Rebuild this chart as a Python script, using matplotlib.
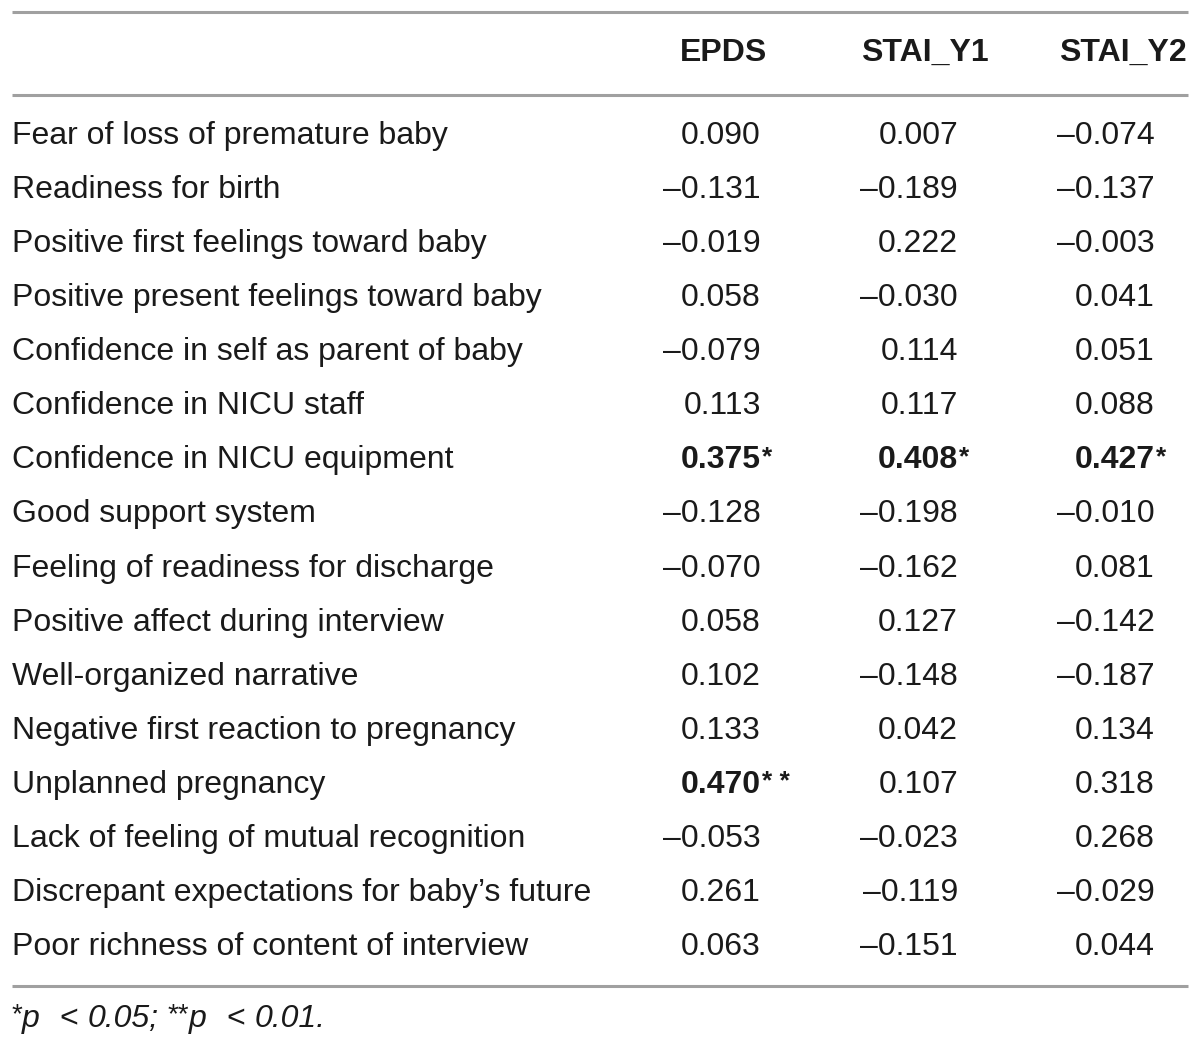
import matplotlib
matplotlib.use("Agg")
import matplotlib.pyplot as plt

# table content
columns = ["EPDS", "STAI_Y1", "STAI_Y2"]
rows = [
    "Fear of loss of premature baby",
    "Readiness for birth",
    "Positive first feelings toward baby",
    "Positive present feelings toward baby",
    "Confidence in self as parent of baby",
    "Confidence in NICU staff",
    "Confidence in NICU equipment",
    "Good support system",
    "Feeling of readiness for discharge",
    "Positive affect during interview",
    "Well-organized narrative",
    "Negative first reaction to pregnancy",
    "Unplanned pregnancy",
    "Lack of feeling of mutual recognition",
    "Discrepant expectations for baby\u2019s future",
    "Poor richness of content of interview",
]
epds = [0.090, -0.131, -0.019, 0.058, -0.079, 0.113, 0.375, -0.128, -0.070, 0.058,
        0.102, 0.133, 0.470, -0.053, 0.261, 0.063]
stai_y1 = [0.007, -0.189, 0.222, -0.030, 0.114, 0.117, 0.408, -0.198, -0.162, 0.127,
           -0.148, 0.042, 0.107, -0.023, -0.119, -0.151]
stai_y2 = [-0.074, -0.137, -0.003, 0.041, 0.051, 0.088, 0.427, -0.010, 0.081, -0.142,
           -0.187, 0.134, 0.318, 0.268, -0.029, 0.044]
# significance stars per cell
stars_epds = ["", "", "", "", "", "", "*", "", "", "", "", "", "* *", "", "", ""]
stars_y1 = ["", "", "", "", "", "", "*", "", "", "", "", "", "", "", "", ""]
stars_y2 = ["", "", "", "", "", "", "*", "", "", "", "", "", "", "", "", ""]
# footnote pieces: (text, italic, gap before in px)
footnote = [("*", False, 0), ("p", True, -2), ("<", False, 19), ("0.05;", True, 8),
            ("**", False, 8), ("p", True, -1), ("<", False, 19), ("0.01.", True, 8)]

W, H = 1200, 1048
plt.rcParams['font.family'] = ['Liberation Sans', 'DejaVu Sans']
fig = plt.figure(figsize=(W / 100, H / 100), dpi=100)
ax = fig.add_axes([0, 0, 1, 1])
ax.set_xlim(0, W)
ax.set_ylim(H, 0)
ax.axis("off")

fs = 23
col = "#1a1a1a"
line_col = "#a0a0a0"

for y in (12, 95, 986):
    ax.plot([12, 1188], [y, y], color=line_col, lw=2.2, solid_capstyle="butt")

# header
head_x = [724, 925, 1123]
for name, x in zip(columns, head_x):
    ax.text(x, 53, name, ha="center", va="center", fontsize=fs, fontweight="bold", color=col)


def fmt(v):
    s = "%.3f" % abs(v)
    return ("\u2013" + s) if v < 0 else s


right_x = [761, 958, 1155]
series = [(epds, stars_epds), (stai_y1, stars_y1), (stai_y2, stars_y2)]
y0, dy = 136, 54.07
for i, label in enumerate(rows):
    y = y0 + i * dy
    ax.text(12, y, label, ha="left", va="center", fontsize=fs, color=col)
    for (vals, st), rx in zip(series, right_x):
        bold = st[i] != ""
        ax.text(rx, y, fmt(vals[i]), ha="right", va="center", fontsize=fs,
                fontweight="bold" if bold else "normal", color=col)
        if bold:
            ax.text(rx + 1, y - 3, st[i], ha="left", va="center", fontsize=fs - 4,
                    fontweight="bold", color=col)

# footnote, pieces placed one after another
fig.canvas.draw()
renderer = fig.canvas.get_renderer()
inv = ax.transData.inverted()
fx = 12
for txt, italic, gap in footnote:
    is_star = txt.startswith("*")
    t = ax.text(fx + gap, 1015 if is_star else 1019, txt, ha="left", va="center",
                fontsize=fs - 3 if is_star else fs, style="italic" if italic else "normal",
                color=col)
    bb = t.get_window_extent(renderer)
    fx = inv.transform((bb.x1, bb.y0))[0] + 1

fig.savefig("out.png", dpi=100)
